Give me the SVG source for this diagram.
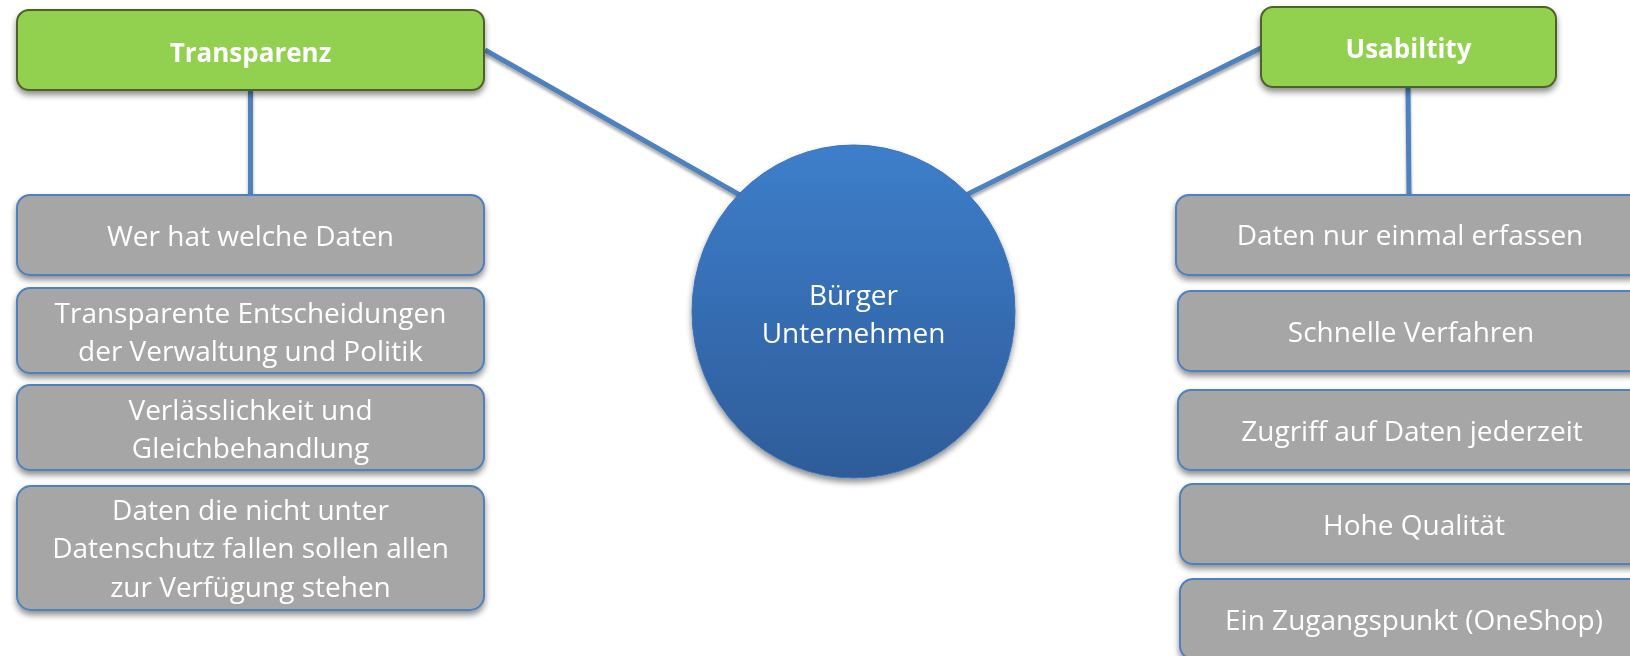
<svg xmlns="http://www.w3.org/2000/svg" width="1630" height="656" viewBox="0 0 1630 656">
<defs>
  <linearGradient id="circGrad" x1="0" y1="0" x2="0" y2="1">
    <stop offset="0" stop-color="#3d7ecb"/>
    <stop offset="1" stop-color="#2e5c99"/>
  </linearGradient>
  <filter id="shadow" x="-10%" y="-10%" width="120%" height="140%">
    <feGaussianBlur in="SourceAlpha" stdDeviation="3"/>
    <feOffset dx="0" dy="4" result="b"/>
    <feComponentTransfer><feFuncA type="linear" slope="0.45"/></feComponentTransfer>
    <feMerge><feMergeNode/><feMergeNode in="SourceGraphic"/></feMerge>
  </filter>
  <filter id="lshadow" x="-10%" y="-10%" width="120%" height="130%">
    <feGaussianBlur in="SourceAlpha" stdDeviation="1.5"/>
    <feOffset dx="0" dy="3" result="b"/>
    <feComponentTransfer><feFuncA type="linear" slope="0.35"/></feComponentTransfer>
    <feMerge><feMergeNode/><feMergeNode in="SourceGraphic"/></feMerge>
  </filter>
</defs>
<style>
  .head { fill: #92d050; stroke: #4f6228; stroke-width: 2; }
  .item { fill: #a6a6a6; stroke: #4f81bd; stroke-width: 2; }
  .htxt { font-family: "Open Sans", "Liberation Sans", sans-serif; font-weight: bold; font-size: 26px; fill: #ffffff; text-anchor: middle; }
  .itxt { font-family: "Open Sans", "Liberation Sans", sans-serif; font-size: 28px; fill: #ffffff; text-anchor: middle; }
  .conn { stroke: #4f81bd; stroke-width: 5; fill: none; }
</style>

<g id="connectors" filter="url(#lshadow)">
  <line class="conn" x1="485" y1="50" x2="745" y2="198"/>
  <line class="conn" x1="1261" y1="48" x2="964" y2="196"/>
  <line class="conn" x1="250.5" y1="90" x2="250.5" y2="195"/>
  <line class="conn" x1="1408" y1="87" x2="1409" y2="195"/>
</g>

<g id="center" filter="url(#shadow)">
  <ellipse cx="853.5" cy="311.5" rx="161.5" ry="166.5" fill="url(#circGrad)" stroke="#3a72b5" stroke-width="1"/>
  <text class="itxt" x="853.5" y="305">Bürger</text>
  <text class="itxt" x="853.5" y="343">Unternehmen</text>
</g>

<g id="transparenz" filter="url(#shadow)">
  <rect class="head" x="17" y="10" width="467" height="80" rx="12"/>
  <text class="htxt" x="250.5" y="62">Transparenz</text>
</g>

<g id="usability" filter="url(#shadow)">
  <rect class="head" x="1261" y="7" width="295" height="80" rx="12"/>
  <text class="htxt" x="1408.5" y="58">Usabiltity</text>
</g>

<g id="t1" filter="url(#shadow)">
  <rect class="item" x="17" y="195" width="467" height="80" rx="13"/>
  <text class="itxt" x="250.5" y="246">Wer hat welche Daten</text>
</g>
<g id="t2" filter="url(#shadow)">
  <rect class="item" x="17" y="288" width="467" height="85" rx="13"/>
  <text class="itxt" x="250.5" y="323">Transparente Entscheidungen</text>
  <text class="itxt" x="250.5" y="361">der Verwaltung und Politik</text>
</g>
<g id="t3" filter="url(#shadow)">
  <rect class="item" x="17" y="385" width="467" height="85" rx="13"/>
  <text class="itxt" x="250.5" y="420">Verlässlichkeit und</text>
  <text class="itxt" x="250.5" y="458">Gleichbehandlung</text>
</g>
<g id="t4" filter="url(#shadow)">
  <rect class="item" x="17" y="486" width="467" height="124" rx="14"/>
  <text class="itxt" x="250.5" y="520">Daten die nicht unter</text>
  <text class="itxt" x="250.5" y="558">Datenschutz fallen sollen allen</text>
  <text class="itxt" x="250.5" y="597">zur Verfügung stehen</text>
</g>

<g id="u1" filter="url(#shadow)">
  <rect class="item" x="1176" y="195" width="467" height="80" rx="13"/>
  <text class="itxt" x="1410" y="245">Daten nur einmal erfassen</text>
</g>
<g id="u2" filter="url(#shadow)">
  <rect class="item" x="1178" y="291" width="467" height="80" rx="13"/>
  <text class="itxt" x="1411" y="342">Schnelle Verfahren</text>
</g>
<g id="u3" filter="url(#shadow)">
  <rect class="item" x="1178" y="390" width="467" height="80" rx="13"/>
  <text class="itxt" x="1412" y="441">Zugriff auf Daten jederzeit</text>
</g>
<g id="u4" filter="url(#shadow)">
  <rect class="item" x="1180" y="484" width="467" height="80" rx="13"/>
  <text class="itxt" x="1414" y="535">Hohe Qualität</text>
</g>
<g id="u5" filter="url(#shadow)">
  <rect class="item" x="1180" y="579" width="467" height="80" rx="13"/>
  <text class="itxt" x="1414" y="630">Ein Zugangspunkt (OneShop)</text>
</g>
</svg>
